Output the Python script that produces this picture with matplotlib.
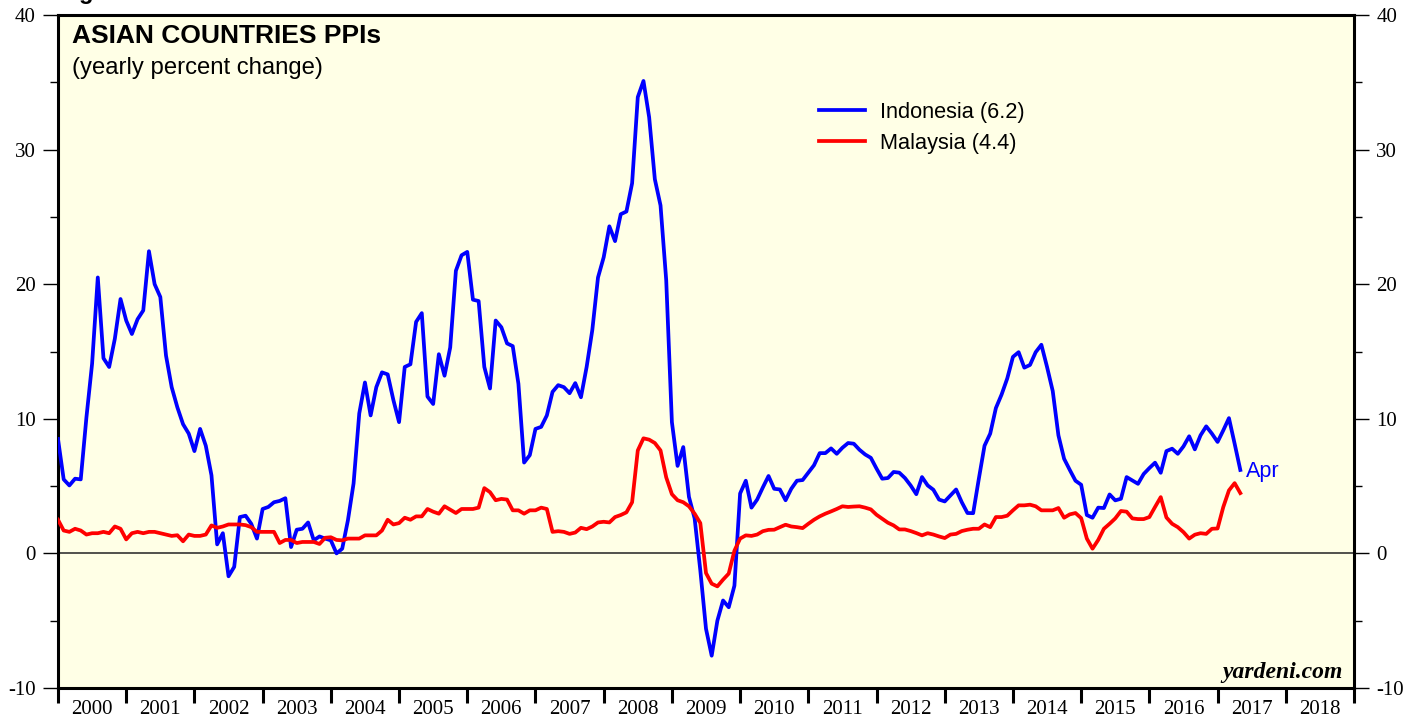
import matplotlib
matplotlib.use("Agg")
import matplotlib.pyplot as plt
from matplotlib.ticker import MultipleLocator, FixedLocator, NullFormatter, FixedFormatter
import numpy as np

plt.rcParams["axes.unicode_minus"] = False

# Monthly data, Dec 1999 .. Apr 2017 (plotted at month end)
start_year = 2000.0
indonesia = [
    8.5, 5.5, 5.05, 5.55, 5.5, 10.1, 14.1, 20.5, 14.5, 13.85, 15.95, 18.9,
    17.3, 16.3, 17.4, 18.05, 22.45, 20.0, 19.05, 14.7, 12.35, 10.85, 9.6, 8.9,
    7.6, 9.25, 8.0, 5.8, 0.67, 1.5, -1.7, -1.0, 2.7, 2.8, 2.2, 1.1,
    3.3, 3.45, 3.8, 3.9, 4.1, 0.47, 1.76, 1.83, 2.3, 0.97, 1.26, 1.1,
    0.97, 0.0, 0.35, 2.45, 5.2, 10.4, 12.7, 10.25, 12.35, 13.45, 13.3, 11.4,
    9.75, 13.85, 14.05, 17.2, 17.85, 11.65, 11.1, 14.8, 13.2, 15.3, 21.0, 22.15,
    22.4, 18.85, 18.75, 13.85, 12.25, 17.3, 16.8, 15.6, 15.4, 12.6, 6.75, 7.3,
    9.25, 9.4, 10.25, 12.0, 12.5, 12.35, 11.9, 12.65, 11.6, 13.85, 16.6, 20.5,
    22.0, 24.3, 23.2, 25.2, 25.4, 27.5, 33.9, 35.1, 32.4, 27.8, 25.85, 20.3,
    9.75, 6.5, 7.9, 4.2, 2.6, -1.26, -5.6, -7.6, -5.0, -3.5, -4.0, -2.4,
    4.45, 5.4, 3.4, 4.0, 4.9, 5.75, 4.8, 4.75, 3.95, 4.8, 5.4, 5.45,
    6.0, 6.55, 7.45, 7.45, 7.8, 7.4, 7.85, 8.2, 8.15, 7.7, 7.35, 7.1,
    6.3, 5.55, 5.6, 6.05, 6.0, 5.6, 5.05, 4.4, 5.67, 5.05, 4.73, 4.0,
    3.86, 4.3, 4.75, 3.8, 3.0, 2.99, 5.55, 8.0, 8.9, 10.8, 11.8, 13.0,
    14.6, 14.95, 13.8, 14.0, 14.95, 15.5, 13.85, 12.06, 8.77, 7.03, 6.2, 5.4,
    5.1, 2.85, 2.65, 3.4, 3.37, 4.38, 3.94, 4.06, 5.67, 5.42, 5.17, 5.9,
    6.34, 6.74, 5.99, 7.6, 7.78, 7.4, 7.95, 8.7, 7.73, 8.77, 9.44, 8.9,
    8.28, 9.14, 10.05, 8.15, 6.2,
]
malaysia = [
    2.5, 1.7, 1.6, 1.83, 1.7, 1.4, 1.5, 1.5, 1.6, 1.5, 2.0, 1.83,
    1.04, 1.5, 1.6, 1.5, 1.6, 1.6, 1.5, 1.4, 1.3, 1.35, 0.9, 1.4,
    1.3, 1.3, 1.4, 2.08, 1.9, 2.0, 2.15, 2.15, 2.15, 2.1, 1.95, 1.6,
    1.6, 1.6, 1.6, 0.77, 1.0, 1.0, 0.77, 0.85, 0.85, 0.85, 0.7, 1.16,
    1.2, 1.0, 0.97, 1.1, 1.1, 1.1, 1.34, 1.34, 1.34, 1.7, 2.5, 2.15,
    2.25, 2.65, 2.5, 2.75, 2.75, 3.3, 3.1, 2.95, 3.5, 3.25, 3.0, 3.3,
    3.3, 3.3, 3.4, 4.85, 4.55, 3.95, 4.05, 4.0, 3.2, 3.2, 2.95, 3.2,
    3.2, 3.4, 3.3, 1.6, 1.65, 1.6, 1.45, 1.55, 1.9, 1.8, 2.0, 2.3,
    2.35, 2.3, 2.7, 2.85, 3.05, 3.8, 7.65, 8.55, 8.45, 8.2, 7.65, 5.65,
    4.4, 3.95, 3.8, 3.5, 2.95, 2.25, -1.46, -2.25, -2.45, -1.95, -1.5, 0.2,
    1.1, 1.34, 1.3, 1.4, 1.65, 1.75, 1.76, 1.95, 2.13, 2.0, 1.95, 1.88,
    2.2, 2.5, 2.75, 2.95, 3.12, 3.3, 3.5, 3.45, 3.48, 3.5, 3.4, 3.27,
    2.87, 2.58, 2.28, 2.08, 1.78, 1.78, 1.66, 1.51, 1.34, 1.5, 1.4, 1.26,
    1.14, 1.4, 1.45, 1.66, 1.76, 1.83, 1.83, 2.15, 1.95, 2.7, 2.7, 2.8,
    3.2, 3.57, 3.57, 3.62, 3.5, 3.2, 3.2, 3.2, 3.37, 2.65, 2.9, 3.0,
    2.62, 1.1, 0.35, 1.0, 1.83, 2.2, 2.6, 3.15, 3.1, 2.6, 2.55, 2.55,
    2.7, 3.45, 4.18, 2.67, 2.2, 1.95, 1.58, 1.1, 1.39, 1.5, 1.45, 1.83,
    1.85, 3.44, 4.68, 5.22, 4.48,
]
year_labels = [str(y) for y in range(2000, 2019)]
legend_labels = ["Indonesia (6.2)", "Malaysia (4.4)"]
title = "ASIAN COUNTRIES PPIs"
subtitle = "(yearly percent change)"

x = start_year + np.arange(len(indonesia)) / 12.0

SANS = ["Liberation Sans", "DejaVu Sans"]
SERIF = ["Liberation Serif", "DejaVu Serif"]

fig = plt.figure(figsize=(14.21, 7.21), dpi=100)
fig.patch.set_facecolor("white")
W, H = 1421, 721
ax = fig.add_axes([58 / W, 1 - 688 / H, (1354 - 58) / W, (688 - 15) / H])
ax.set_facecolor("#FFFFE6")

ax.plot(x, indonesia, color="#0000FF", lw=2.7, solid_joinstyle="round", label=legend_labels[0], zorder=3)
ax.plot(x, malaysia, color="#FF0000", lw=2.7, solid_joinstyle="round", label=legend_labels[1], zorder=3)
ax.axhline(0, color="#333333", lw=1.2, zorder=2)

ax.set_xlim(2000, 2019)
ax.set_ylim(-10, 40)

for s in ax.spines.values():
    s.set_linewidth(2.2)
    s.set_color("black")

# y ticks both sides
ax.yaxis.set_major_locator(MultipleLocator(10))
ax.yaxis.set_minor_locator(MultipleLocator(5))
ax.tick_params(axis="y", which="major", direction="out", length=11, width=1.0,
               left=True, right=True, labelleft=True, labelright=True, pad=5)
ax.tick_params(axis="y", which="minor", direction="out", length=6, width=1.0,
               left=True, right=True)
for lab in ax.get_yticklabels():
    lab.set_fontfamily(SERIF)
    lab.set_fontsize(15)

# x ticks at year boundaries, labels at mid-year
years = np.arange(2000, 2020)
ax.xaxis.set_major_locator(FixedLocator(years))
ax.xaxis.set_major_formatter(NullFormatter())
ax.xaxis.set_minor_locator(FixedLocator(years[:-1] + 0.5))
ax.xaxis.set_minor_formatter(FixedFormatter(year_labels))
ax.tick_params(axis="x", which="major", direction="out", length=11, width=2.2)
ax.tick_params(axis="x", which="minor", length=0, pad=9)
for lab in ax.get_xticklabels(minor=True):
    lab.set_fontfamily(SERIF)
    lab.set_fontsize(15)

# titles
ax.text(14 / 1296, 1 - 9 / 673, title, transform=ax.transAxes, ha="left", va="top",
        fontsize=19, fontweight="bold", family=SANS)
ax.text(14 / 1296, 1 - 42 / 673, subtitle, transform=ax.transAxes, ha="left", va="top",
        fontsize=17.2, family=SANS)

leg = ax.legend(loc="upper left", bbox_to_anchor=(0.587, 0.871), frameon=False,
                borderpad=0, borderaxespad=0, handlelength=2.1, handletextpad=0.7,
                labelspacing=0.45, prop={"family": SANS, "size": 15.7})

ax.text(x[-1] + 0.08, indonesia[-1] - 0.1, "Apr", color="#0000FF", fontsize=15.5,
        family=SANS, ha="left", va="center")

ax.text(0.9915, 0.008, "yardeni.com", transform=ax.transAxes, ha="right", va="bottom",
        fontsize=17, fontweight="bold", fontstyle="italic", family=SERIF)

fig.text(58 / W, 1 + 1 / H, "Figure 1.", ha="left", va="baseline", fontsize=17,
         fontweight="bold", family=SANS)

fig.savefig("out.png", dpi=100, facecolor="white")
